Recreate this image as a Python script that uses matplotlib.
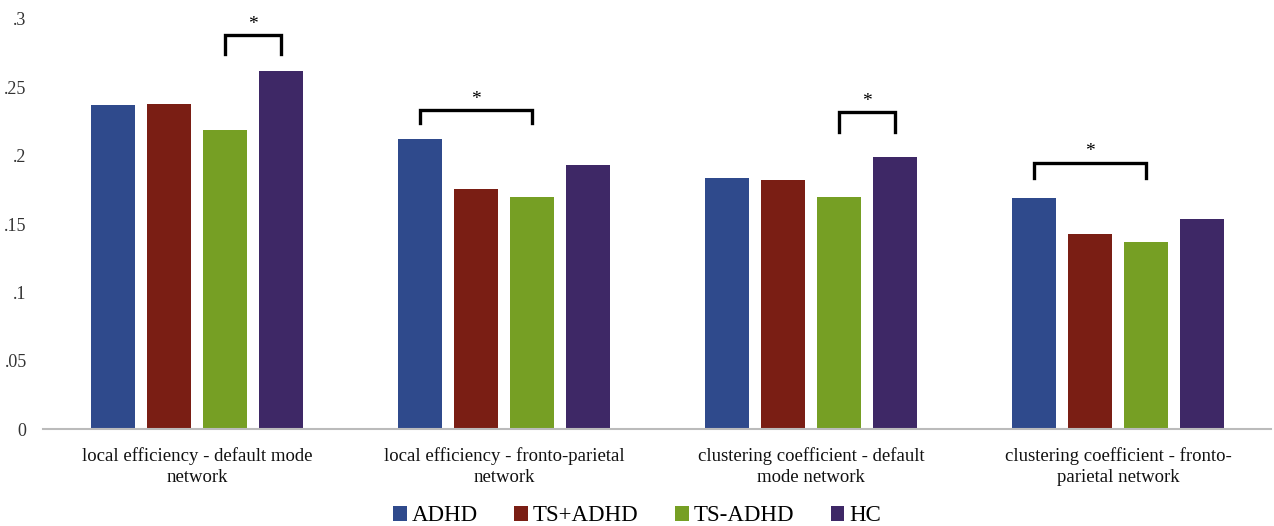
import numpy as np
import matplotlib.pyplot as plt

plt.rcParams['font.family'] = ['Liberation Serif', 'DejaVu Serif']

categories = ['local efficiency - default mode\nnetwork',
              'local efficiency - fronto-parietal\nnetwork',
              'clustering coefficient - default\nmode network',
              'clustering coefficient - fronto-\nparietal network']
groups = ['ADHD', 'TS+ADHD', 'TS-ADHD', 'HC']
adhd = [0.237, 0.212, 0.184, 0.169]
ts_adhd_plus = [0.238, 0.176, 0.182, 0.143]
ts_adhd_minus = [0.219, 0.170, 0.170, 0.137]
hc = [0.262, 0.193, 0.199, 0.154]
colors = ['#2F4A8C', '#7A1E14', '#769F24', '#3E2866']

# significance brackets: (category, bar a, bar b, top, leg bottom)
brackets = [(0, 2, 3, 0.288, 0.274),
            (1, 0, 2, 0.2335, 0.224),
            (2, 2, 3, 0.232, 0.2175),
            (3, 0, 2, 0.195, 0.1835)]

fig = plt.figure(figsize=(12.74, 5.26), dpi=100)
ax = fig.add_axes([0.034, 0.184, 0.964, 0.78])

x = np.arange(len(categories))
step = 0.182
width = 0.143
series = [adhd, ts_adhd_plus, ts_adhd_minus, hc]
for i, vals in enumerate(series):
    ax.bar(x + (i - 1.5) * step, vals, width, color=colors[i], label=groups[i])

for c, a, b, top, low in brackets:
    xa = c + (a - 1.5) * step
    xb = c + (b - 1.5) * step
    ax.plot([xa, xa, xb, xb], [low, top, top, low], color='black', lw=2.4,
            solid_joinstyle='miter')
    ax.text((xa + xb) / 2, top + 0.0015, '*', ha='center', va='bottom', fontsize=14)

ax.set_xlim(-0.5, 3.5)
ax.set_ylim(0, 0.3)
ax.set_yticks([0, 0.05, 0.1, 0.15, 0.2, 0.25, 0.3])
ax.set_yticklabels(['0', '.05', '.1', '.15', '.2', '.25', '.3'], fontsize=13, color='#333333')
ax.set_xticks(x)
ax.set_xticklabels(categories, fontsize=13.5, color='#111111', linespacing=1.3)
ax.tick_params(axis='x', length=0, pad=13)
ax.tick_params(axis='y', length=0, pad=12)
for s in ['top', 'right', 'left']:
    ax.spines[s].set_visible(False)
ax.spines['bottom'].set_color('#BBBBBB')
ax.spines['bottom'].set_linewidth(1.5)

fig.legend(loc='lower center', bbox_to_anchor=(0.5, -0.04), ncol=4, frameon=False,
           fontsize=16.5, handlelength=0.6, handleheight=0.6, handletextpad=0.2,
           columnspacing=1.6)

fig.savefig('out.png', dpi=100)
